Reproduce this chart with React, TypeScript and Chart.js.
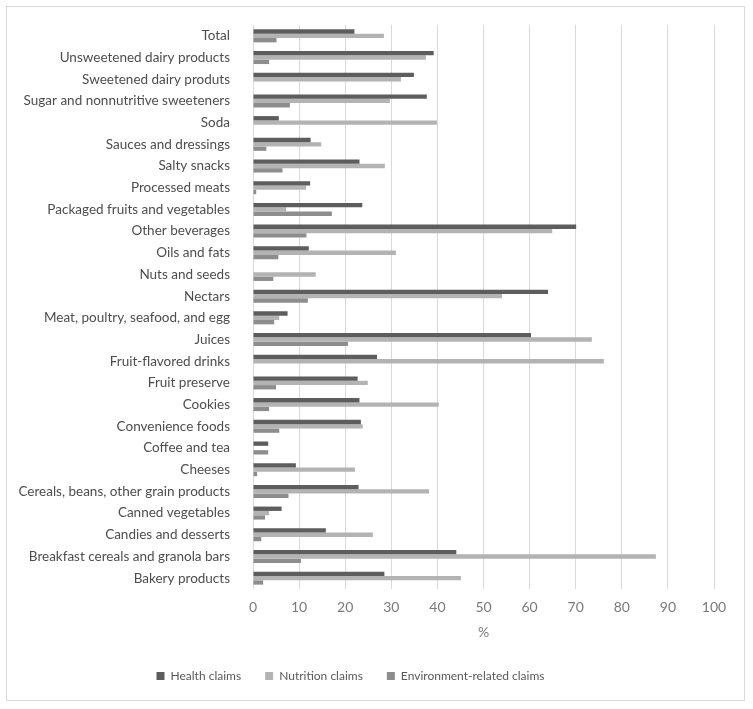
import React, { useEffect, useRef } from "react";
import { Chart, registerables } from "chart.js";

Chart.register(...registerables);

const categories = [
  "Total",
  "Unsweetened dairy products",
  "Sweetened dairy produts",
  "Sugar and nonnutritive sweeteners",
  "Soda",
  "Sauces and dressings",
  "Salty snacks",
  "Processed meats",
  "Packaged fruits and vegetables",
  "Other beverages",
  "Oils and fats",
  "Nuts and seeds",
  "Nectars",
  "Meat, poultry, seafood, and egg",
  "Juices",
  "Fruit-flavored drinks",
  "Fruit preserve",
  "Cookies",
  "Convenience foods",
  "Coffee and tea",
  "Cheeses",
  "Cereals, beans, other grain products",
  "Canned vegetables",
  "Candies and desserts",
  "Breakfast cereals and granola bars",
  "Bakery products",
];

const healthClaims = [
  22.0, 39.2, 34.9, 37.7, 5.6, 12.5, 23.1, 12.4, 23.7, 70.1, 12.1, 0, 64.0, 7.5,
  60.3, 26.9, 22.7, 23.1, 23.4, 3.3, 9.3, 22.9, 6.2, 15.8, 44.1, 28.5,
];
const nutritionClaims = [
  28.4, 37.5, 32.1, 29.7, 39.9, 14.8, 28.6, 11.5, 7.2, 64.9, 31.0, 13.6, 54.0, 5.7,
  73.5, 76.1, 24.9, 40.3, 23.8, 0, 22.1, 38.2, 3.5, 26.0, 87.4, 45.1,
];
const environmentClaims = [
  5.1, 3.5, 0, 8.0, 0, 2.9, 6.4, 0.7, 17.1, 11.6, 5.5, 4.4, 11.9, 4.6, 20.6, 0,
  5.0, 3.5, 5.7, 3.3, 0.9, 7.7, 2.6, 1.8, 10.4, 2.2,
];

const seriesNames = ["Health claims", "Nutrition claims", "Environment-related claims"];
const xTicks = [0, 10, 20, 30, 40, 50, 60, 70, 80, 90, 100];

const FONT = "Lato, 'Open Sans', sans-serif";

const legendShift = {
  id: "legendShift",
  afterLayout(chart: any) {
    const lg = chart.legend;
    if (lg) {
      lg.left -= 10;
      lg.right -= 10;
    }
  },
};

export default function App() {
  const ref = useRef<HTMLCanvasElement | null>(null);

  useEffect(() => {
    if (!ref.current) return;
    const chart = new Chart(ref.current, {
      type: "bar",
      data: {
        labels: categories,
        datasets: [
          { label: seriesNames[0], data: healthClaims, backgroundColor: "#5d5d5d" },
          { label: seriesNames[1], data: nutritionClaims, backgroundColor: "#b3b3b3" },
          { label: seriesNames[2], data: environmentClaims, backgroundColor: "#8d8d8d" },
        ],
      },
      options: {
        indexAxis: "y",
        responsive: false,
        animation: false,
        datasets: {
          bar: { categoryPercentage: 0.6, barPercentage: 1.0 },
        },
        layout: { padding: { left: 0, right: 30, top: 18, bottom: 8 } },
        scales: {
          x: {
            min: 0,
            max: 100,
            afterBuildTicks: (scale: any) => {
              scale.ticks = xTicks.map((v) => ({ value: v }));
            },
            afterFit: (scale: any) => {
              scale.height = 57;
            },
            grid: { color: "#d9d9d9", lineWidth: 1, drawTicks: false },
            border: { display: false },
            ticks: {
              padding: 10,
              color: "#7a7a7a",
              font: { family: FONT, size: 14 },
            },
            title: {
              display: true,
              text: "%",
              color: "#7a7a7a",
              font: { family: FONT, size: 14 },
              padding: { top: 9, bottom: 5 },
            },
          },
          y: {
            afterFit: (scale: any) => {
              scale.width = 246;
              scale.paddingTop = 0;
              scale.paddingBottom = 0;
            },
            grid: { display: false },
            border: { display: false },
            ticks: {
              autoSkip: false,
              padding: 15,
              color: "#4d4d4d",
              font: { family: FONT, size: 13.5 },
            },
          },
        },
        plugins: {
          legend: {
            position: "bottom",
            labels: {
              boxWidth: 8,
              boxHeight: 8,
              padding: 24,
              color: "#595959",
              font: { family: FONT, size: 12 },
            },
          },
          tooltip: { enabled: false },
        },
      },
      plugins: [legendShift],
    });
    return () => chart.destroy();
  }, []);

  return (
    <div
      style={{
        position: "absolute",
        left: 6,
        top: 6,
        width: 739,
        height: 695,
        border: "1px solid #d9d9d9",
        boxSizing: "border-box",
        background: "#fff",
      }}
    >
      <canvas ref={ref} width={737} height={693} style={{ display: "block", width: 737, height: 693 }} />
    </div>
  );
}
